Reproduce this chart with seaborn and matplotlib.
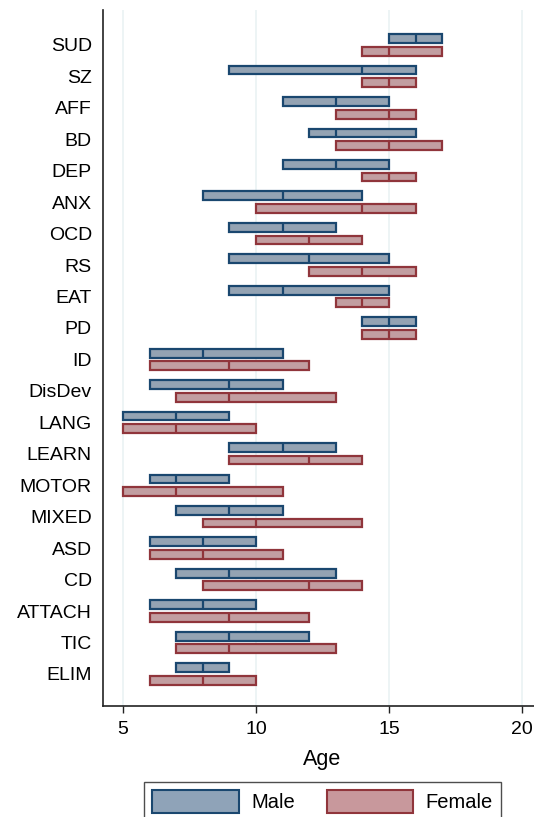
import numpy as np
import pandas as pd
import matplotlib
matplotlib.use("Agg")
import matplotlib.pyplot as plt
from matplotlib.patches import Patch
import seaborn as sns

# Data: interquartile range and median age at diagnosis, by sex
categories = ["SUD", "SZ", "AFF", "BD", "DEP", "ANX", "OCD", "RS", "EAT", "PD",
              "ID", "DisDev", "LANG", "LEARN", "MOTOR", "MIXED", "ASD", "CD",
              "ATTACH", "TIC", "ELIM"]

male_q1 = [15, 9, 11, 12, 11, 8, 9, 9, 9, 14, 6, 6, 5, 9, 6, 7, 6, 7, 6, 7, 7]
male_med = [16, 14, 13, 13, 13, 11, 11, 12, 11, 15, 8, 9, 7, 11, 7, 9, 8, 9, 8, 9, 8]
male_q3 = [17, 16, 15, 16, 15, 14, 13, 15, 15, 16, 11, 11, 9, 13, 9, 11, 10, 13, 10, 12, 9]

female_q1 = [14, 14, 13, 13, 14, 10, 10, 12, 13, 14, 6, 7, 5, 9, 5, 8, 6, 8, 6, 7, 6]
female_med = [15, 15, 15, 15, 15, 14, 12, 14, 14, 15, 9, 9, 7, 12, 7, 10, 8, 12, 9, 9, 8]
female_q3 = [17, 16, 16, 17, 16, 16, 14, 16, 15, 16, 12, 13, 10, 14, 11, 14, 11, 14, 12, 13, 10]

sexes = ["Male", "Female"]
fills = {"Male": "#8FA3B8", "Female": "#C8989C"}
edges = {"Male": "#1A476F", "Female": "#90353B"}

df = pd.concat([
    pd.DataFrame({"cat": categories, "sex": "Male",
                  "q1": male_q1, "med": male_med, "q3": male_q3}),
    pd.DataFrame({"cat": categories, "sex": "Female",
                  "q1": female_q1, "med": female_med, "q3": female_q3}),
], ignore_index=True)

sns.set_style("white")
plt.rcParams["font.family"] = ["Liberation Sans", "DejaVu Sans"]
plt.rcParams["text.color"] = "black"
plt.rcParams["axes.labelcolor"] = "black"
plt.rcParams["xtick.color"] = "black"
plt.rcParams["ytick.color"] = "black"

fig = plt.figure(figsize=(5.34, 8.17), dpi=100)
ax = fig.add_axes([103 / 534, 1 - 706 / 817, (542 - 103) / 534, (706 - 10) / 817])

sns.barplot(data=df, y="cat", x="q3", hue="sex", order=categories,
            hue_order=sexes, palette=fills, errorbar=None, gap=0.3,
            legend=False, ax=ax)

# turn the bars into floating boxes q1..q3 with a median line
for sex, cont in zip(sexes, ax.containers):
    sub = df[df["sex"] == sex].set_index("cat")
    for bar in cont:
        yc = bar.get_y() + bar.get_height() / 2
        row = sub.loc[categories[int(round(yc))]]
        bar.set_x(row["q1"])
        bar.set_width(row["q3"] - row["q1"])
        bar.set_edgecolor(edges[sex])
        bar.set_linewidth(1.6)
        bar.set_zorder(3)
        ax.vlines(row["med"], bar.get_y(), bar.get_y() + bar.get_height(),
                  color=edges[sex], lw=1.6, zorder=4)

ax.set_xlim(4.25, 20.75)
ax.set_ylim(21.02, -1.11)
ax.set_xticks([5, 10, 15, 20])
ax.xaxis.grid(True, color="#EAF2F3", lw=1.2)
ax.yaxis.grid(False)
ax.set_axisbelow(True)

for s in ["top", "right"]:
    ax.spines[s].set_visible(False)
for s in ["left", "bottom"]:
    ax.spines[s].set_color("#222222")
    ax.spines[s].set_linewidth(1.2)

ax.tick_params(axis="x", length=5, width=1, color="#222222", pad=6,
               labelsize=14, bottom=True)
ax.tick_params(axis="y", length=0, pad=8, labelsize=14)
ax.set_ylabel("")
ax.set_xlabel("Age", fontsize=15.5, labelpad=8)

handles = [Patch(facecolor=fills[s], edgecolor=edges[s], lw=1.5, label=s)
           for s in sexes]
leg = fig.legend(handles=handles, loc="upper center", ncol=2,
                 bbox_to_anchor=(322.5 / 534, 1 - 782 / 817), fontsize=14.5,
                 frameon=True, fancybox=False, edgecolor="#222222",
                 handlelength=4.3, handleheight=1.4, handletextpad=0.6,
                 columnspacing=1.6, borderpad=0.4, borderaxespad=0)
leg.get_frame().set_linewidth(1)

fig.savefig("out.png", dpi=100)
